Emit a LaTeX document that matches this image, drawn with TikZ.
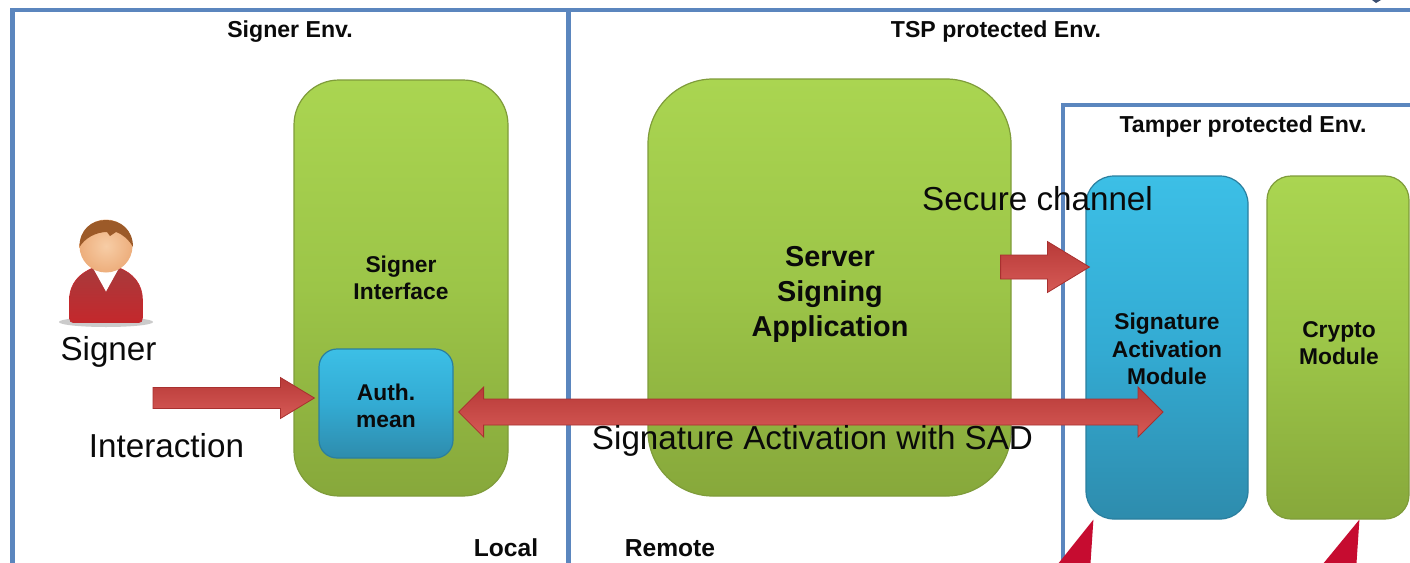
\documentclass[tikz,border=0pt]{standalone}
\usepackage{fontspec}
\setmainfont{Liberation Sans}
\usetikzlibrary{calc}
\definecolor{frameblue}{HTML}{5B86BE}
\definecolor{inkblack}{HTML}{0A0A0A}
\definecolor{HTMLgreenedge}{HTML}{7F9C3A}
\definecolor{HTMLgreentop}{HTML}{AAD551}
\definecolor{HTMLgreenmid}{HTML}{9CC548}
\definecolor{HTMLgreenbot}{HTML}{87A83B}
\definecolor{HTMLblueedge}{HTML}{2A7F9F}
\definecolor{HTMLbluetop}{HTML}{3CBFE6}
\definecolor{HTMLbluemid}{HTML}{33ABD3}
\definecolor{HTMLbluebot}{HTML}{2E8CAD}
\definecolor{HTMLarrowedge}{HTML}{A8302F}
\definecolor{HTMLarrowtop}{HTML}{B83A38}
\definecolor{HTMLarrowmid}{HTML}{CB403E}
\definecolor{HTMLarrowbot}{HTML}{D65A56}
\definecolor{HTMLwedge}{HTML}{C60C30}
\definecolor{HTMLpersontop}{HTML}{A83A3C}
\definecolor{HTMLpersonbot}{HTML}{C4282C}
\definecolor{HTMLface}{HTML}{F7CDA6}
\definecolor{HTMLfaceedge}{HTML}{EDAE7C}
\definecolor{HTMLhair}{HTML}{9C5A28}
\definecolor{HTMLspeck}{HTML}{3A4E70}
\tikzset{
  x=1pt,y=-1pt,
  frameline/.style={draw=frameblue,line width=4.8pt},
  greenbox/.style={draw=HTMLgreenedge,line width=1.2pt,top color=HTMLgreentop,bottom color=HTMLgreenbot,middle color=HTMLgreenmid,rectangle,inner sep=0pt},
  bluebox/.style={draw=HTMLblueedge,line width=1.2pt,top color=HTMLbluetop,bottom color=HTMLbluebot,middle color=HTMLbluemid,rectangle,inner sep=0pt},
  boldlabel/.style={font=\fontsize{23.1}{25}\selectfont\bfseries,text=inkblack,inner sep=0pt,align=center},
  footlabel/.style={font=\fontsize{24.6}{26}\selectfont\bfseries,text=inkblack,inner sep=0pt,align=center},
  boxlabel/.style={font=\fontsize{22.8}{27.5}\selectfont\bfseries,text=inkblack,inner sep=0pt,align=center},
  biglabel/.style={font=\fontsize{28.8}{35}\selectfont\bfseries,text=inkblack,inner sep=0pt,align=center},
  plainlabel/.style={font=\fontsize{33.2}{36}\selectfont,text=inkblack,inner sep=0pt},
  blockfill/.style={draw=HTMLarrowedge,line width=0.8pt,top color=HTMLarrowtop,middle color=HTMLarrowmid,bottom color=HTMLarrowbot},
  wedge/.style={fill=HTMLwedge,draw=none},
}
% #1 tail, #2 tip, #3 half shaft, #4 head length, #5 half head
\newcommand{\blockright}[5]{%
  \path[blockfill] let \p1=(#1),\p2=(#2) in
    (\x1,\y1+#3pt) -- (\x2-#4pt,\y2+#3pt) -- (\x2-#4pt,\y2+#5pt) -- (\x2,\y2)
    -- (\x2-#4pt,\y2-#5pt) -- (\x2-#4pt,\y2-#3pt) -- (\x1,\y1-#3pt) -- cycle;}
% #1 left tip, #2 right tip, #3 half shaft, #4 head length, #5 half head
\newcommand{\blockboth}[5]{%
  \path[blockfill] let \p1=(#1),\p2=(#2) in
    (\x1,\y1) -- (\x1+#4pt,\y1+#5pt) -- (\x1+#4pt,\y1+#3pt) -- (\x2-#4pt,\y2+#3pt)
    -- (\x2-#4pt,\y2+#5pt) -- (\x2,\y2) -- (\x2-#4pt,\y2-#5pt) -- (\x2-#4pt,\y2-#3pt)
    -- (\x1+#4pt,\y1-#3pt) -- (\x1+#4pt,\y1-#5pt) -- cycle;}
\begin{document}
\begin{tikzpicture}
\useasboundingbox (0,0) rectangle (1410,562);
\clip (0,0) rectangle (1410,562);
\fill[white] (0,0) rectangle (1410,562);
% environment frames
\draw[frameline] (12.5,570) -- (12.5,10) -- (1420,10);
\draw[frameline] (568.5,10) -- (568.5,570);
\draw[frameline] (1063,570) -- (1063,105) -- (1420,105);
\fill[HTMLspeck] (1372,0) -- (1381,0) -- (1376,3) -- cycle;
% frame titles
\node[boldlabel] (tsigner) at (290,32) {Signer Env.};
\node[boldlabel] (ttsp) at (996,32) {TSP protected Env.};
\node[boldlabel] (ttamper) at (1243,127) {Tamper protected Env.};
\node[footlabel] (tlocal) at (506,548) {Local};
\node[footlabel] (tremote) at (670,548) {Remote};
% person
\fill[black!45,opacity=.45] (106,322) ellipse (47 and 5);
\draw[draw=HTMLpersonbot,line width=.6pt,top color=HTMLpersontop,bottom color=HTMLpersonbot]
  (69.5,318) -- (69.5,300) .. controls (69.5,283) and (80,273) .. (94,267.5)
  -- (118,267.5) .. controls (133,273) and (142.5,284) .. (142.5,300) -- (142.5,318)
  .. controls (142.5,321) and (141,322.5) .. (139,322.5) -- (73,322.5)
  .. controls (71,322.5) and (69.5,321) .. (69.5,318) -- cycle;
\fill[white] (93,268) -- (106,291.5) -- (119,268) -- cycle;
\shade[inner color=HTMLface,outer color=HTMLfaceedge] (106,246) circle (26.5);
\fill[HTMLhair] (79.5,247) .. controls (79.5,230) and (91,220) .. (106,220)
  .. controls (121,220) and (133,230) .. (133,247)
  .. controls (129,240) and (124,235) .. (116,232) -- (110,236) -- (107,232)
  .. controls (96,232) and (85,238) .. (79.5,247) -- cycle;
\node[plainlabel] (lsigner) at (108.5,352) {Signer};
\node[plainlabel] (linter) at (166.5,446) {Interaction};
% boxes
\node[greenbox,rounded corners=45pt,minimum width=214pt,minimum height=416pt] (signerif) at (401,288) {};
\node[boxlabel] (lsignerif) at (401,278) {Signer\\Interface};
\node[greenbox,rounded corners=65pt,minimum width=363pt,minimum height=417pt] (server) at (829.5,287.5) {};
\node[biglabel] (lserver) at (830,294) {Server\\Signing\\Application};
\node[bluebox,rounded corners=18pt,minimum width=134pt,minimum height=109pt] (auth) at (386,403.5) {};
\node[boxlabel] (lauth) at (386,406) {Auth.\\mean};
\node[bluebox,rounded corners=28pt,minimum width=162pt,minimum height=343pt] (sam) at (1167,347.5) {};
\node[boxlabel] (lsam) at (1167,349) {Signature\\Activation\\Module};
\node[greenbox,rounded corners=24pt,minimum width=142pt,minimum height=343pt] (crypto) at (1338,347.5) {};
\node[boxlabel] (lcrypto) at (1339,343) {Crypto\\Module};
% connectors
\coordinate (intstart) at (153,398);
\coordinate (sadtip) at (1163,412);
\blockright{intstart}{$(auth.west)+(-4,-5.5)$}{10.5}{34}{20.5}
\blockright{$(server.east)+(-11,-20.5)$}{$(sam.west)+(4,-80.5)$}{12}{42}{25.5}
\blockboth{$(auth.east)+(5,8.5)$}{sadtip}{13}{25}{25}
% floating labels
\node[plainlabel] (lsecure) at (1037.5,199) {Secure channel};
\node[plainlabel] (lsad) at (812.5,441) {Signature Activation with SAD};
% pointers rising from below
\coordinate (samfoot) at ($(sam.south west)+(8,0)$);
\coordinate (cryptofoot) at ($(crypto.south west)+(93,0)$);
\fill[wedge] (samfoot) -- ++(-36,45) -- ++(33,0) -- cycle;
\fill[wedge] (cryptofoot) -- ++(-37,45) -- ++(34,0) -- cycle;
\end{tikzpicture}
\end{document}
